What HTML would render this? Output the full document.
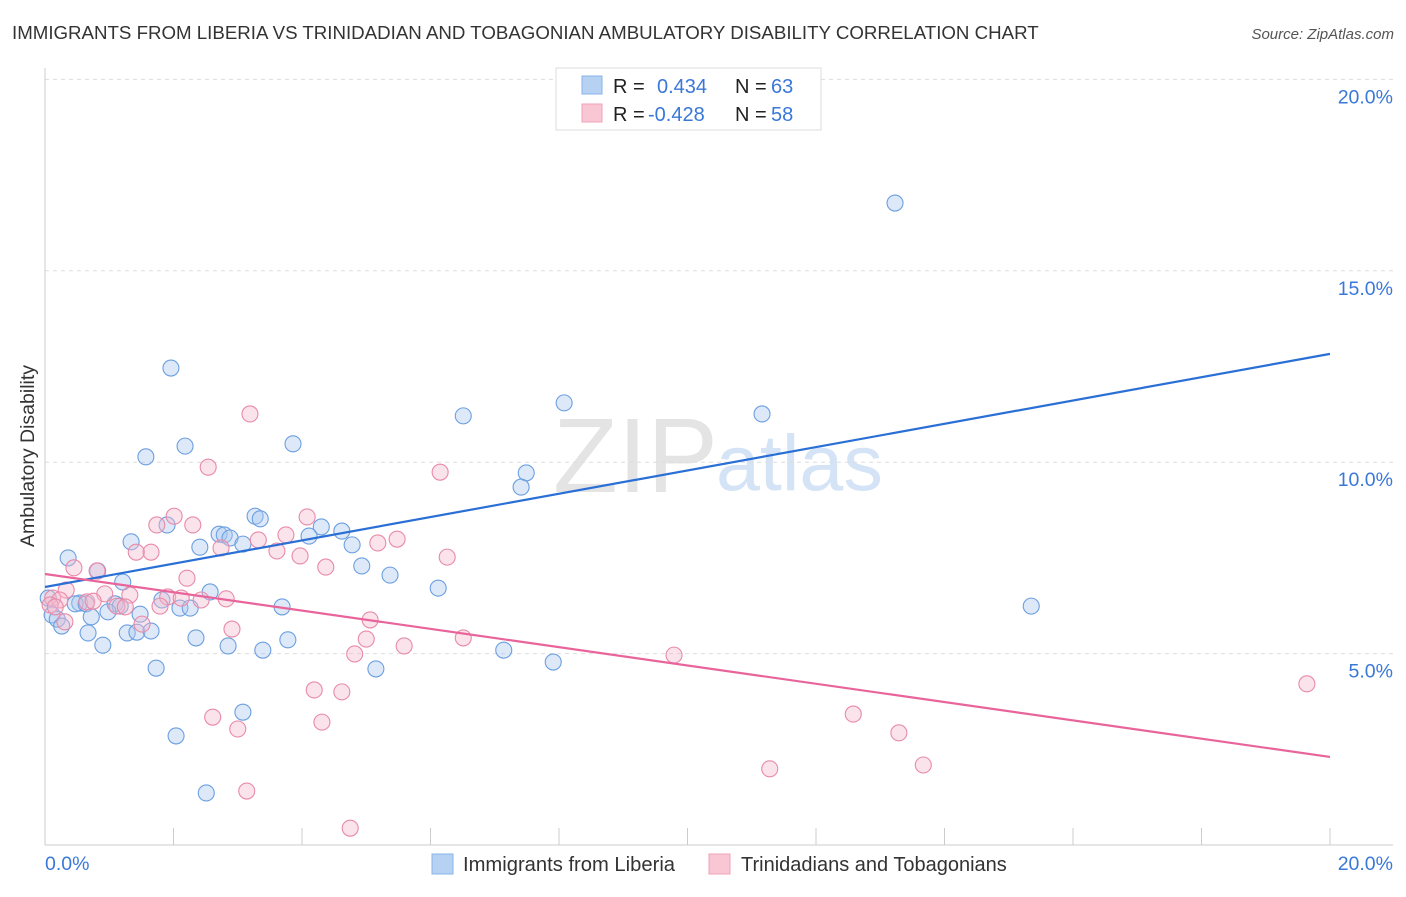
<!DOCTYPE html>
<html><head><meta charset="utf-8"><style>
body{margin:0;background:#fff;font-family:"Liberation Sans",sans-serif}
svg text{font-family:"Liberation Sans",sans-serif}
</style></head><body>
<svg id="chart" width="1406" height="892">
<text x="12" y="39" font-size="18.7" fill="#333">IMMIGRANTS FROM LIBERIA VS TRINIDADIAN AND TOBAGONIAN AMBULATORY DISABILITY CORRELATION CHART</text>
<text x="1394" y="39" font-size="15" fill="#555" font-style="italic" text-anchor="end">Source: ZipAtlas.com</text>
<g>
<text x="553" y="492" font-size="106" fill="#e4e4e4" font-family="Liberation Serif">ZIP</text>
<text x="716" y="490" font-size="79" fill="#d4e3f5">atlas</text>
</g>
<g id="grid"></g><g id="axes"></g>
<text x="34" y="456" font-size="19.5" fill="#333" transform="rotate(-90 34 456)" text-anchor="middle">Ambulatory Disability</text>
<g id="pts"></g><g id="lines"></g>
<g>
<rect x="556" y="68" width="265" height="62" fill="#fff" stroke="#ddd"/>
<rect x="582" y="76" width="20" height="18" fill="#b7d1f3" stroke="#8ab3e8"/>
<rect x="582" y="104" width="20" height="18" fill="#f9c6d4" stroke="#f0a0b8"/>
<text x="613" y="93" font-size="20" fill="#222">R =</text><text x="657" y="93" font-size="20" fill="#3a78d8">0.434</text>
<text x="735" y="93" font-size="20" fill="#222">N =</text><text x="771" y="93" font-size="20" fill="#3a78d8">63</text>
<text x="613" y="121" font-size="20" fill="#222">R =</text><text x="648" y="121" font-size="20" fill="#3a78d8">-0.428</text>
<text x="735" y="121" font-size="20" fill="#222">N =</text><text x="771" y="121" font-size="20" fill="#3a78d8">58</text>
</g>
<g>
<rect x="432" y="854" width="21" height="20" fill="#b7d1f3" stroke="#8ab3e8"/>
<text x="463" y="871" font-size="20.2" fill="#333">Immigrants from Liberia</text>
<rect x="709" y="854" width="21" height="20" fill="#f9c6d4" stroke="#f0a0b8"/>
<text x="741" y="871" font-size="20" fill="#333">Trinidadians and Tobagonians</text>
</g>
</svg>
<script>
const yTicks=[5,10,15,20];
const blueX=[13.23,1.96,6.51,8.08,11.16,3.86,2.18,1.57,7.49,7.41,3.27,3.35,1.90,4.30,4.62,4.11,2.71,2.79,2.88,3.08,1.34,2.41,4.78,0.36,4.93,0.82,5.37,1.21,6.12,2.57,1.82,0.05,0.54,0.47,0.64,1.09,1.17,3.69,15.35,2.10,2.26,1.48,0.98,0.11,0.19,0.72,0.26,1.28,1.43,1.65,0.67,2.35,3.78,2.85,0.90,3.39,7.14,7.91,1.73,5.15,3.08,2.04,2.51];
const blueY=[16.77,12.46,11.21,11.55,11.26,10.48,10.42,10.14,9.72,9.35,8.59,8.52,8.36,8.31,8.20,8.07,8.12,8.10,8.02,7.86,7.92,7.78,7.84,7.50,7.29,7.16,7.05,6.87,6.71,6.61,6.40,6.45,6.32,6.30,6.30,6.30,6.24,6.22,6.24,6.19,6.19,6.03,6.09,6.01,5.90,5.96,5.72,5.54,5.56,5.59,5.54,5.41,5.36,5.20,5.22,5.09,5.09,4.78,4.62,4.60,3.47,2.85,1.36];
const pinkX=[3.19,2.54,6.15,2.01,1.74,2.30,4.08,3.75,5.48,5.18,3.32,1.65,1.42,3.61,2.74,3.97,6.26,0.45,0.81,2.21,4.37,0.33,0.12,0.23,0.08,0.93,1.32,1.91,2.12,2.43,2.82,0.65,0.75,1.12,1.25,1.79,1.51,5.06,2.91,5.00,6.51,5.59,4.82,9.79,4.19,4.62,19.64,12.58,2.61,4.31,3.00,13.29,13.67,11.28,3.14,4.75,0.16,0.31];
const pinkY=[11.26,9.87,9.74,8.59,8.36,8.36,8.57,8.10,7.99,7.89,7.97,7.65,7.65,7.68,7.76,7.55,7.52,7.24,7.16,6.97,7.26,6.66,6.45,6.40,6.27,6.56,6.53,6.48,6.45,6.40,6.43,6.35,6.37,6.24,6.22,6.24,5.77,5.88,5.64,5.38,5.41,5.20,4.99,4.96,4.05,4.00,4.21,3.42,3.34,3.21,3.03,2.93,2.09,1.99,1.41,0.44,6.22,5.83];
const blueTrend=[6.74,12.83];
const pinkTrend=[7.08,2.30];
const xDomain=[0,20];

const NS="http://www.w3.org/2000/svg";
const sx=v=>45+(v-xDomain[0])/(xDomain[1]-xDomain[0])*1285;
const sy=v=>845-v*38.28;
function mk(tag,attrs,parent){const e=document.createElementNS(NS,tag);for(const k in attrs)e.setAttribute(k,attrs[k]);parent.appendChild(e);return e;}
const grid=document.getElementById('grid'),axes=document.getElementById('axes');
yTicks.forEach(t=>{
  const l=mk('line',{x1:45,x2:1393,y1:sy(t),y2:sy(t),stroke:'#ddd','stroke-dasharray':'4,4'},grid);
  
  
  const tx=mk('text',{x:1393,y:sy(t)+24,'font-size':19.5,fill:'#3a78d8','text-anchor':'end'},axes);
  tx.textContent=t.toFixed(1)+'%';
  
  
});
let a=mk('line',{x1:45,x2:45,y1:68,y2:845,stroke:'#ccc'},axes);


a=mk('line',{x1:45,x2:1393,y1:845,y2:845,stroke:'#ccc'},axes);


for(let i=0;i<=10;i++){
  const t=mk('line',{x1:sx(i*2),x2:sx(i*2),y1:828,y2:845,stroke:'#ccc'},axes);
  
  
}
let xl=mk('text',{x:45,y:870,'font-size':19.5,fill:'#3a78d8'},axes);xl.textContent='0.0%';


xl=mk('text',{x:1393,y:870,'font-size':19.5,fill:'#3a78d8','text-anchor':'end'},axes);xl.textContent='20.0%';


const pts=document.getElementById('pts');
function series(X,Y,fill,stroke,name){X.forEach((x,i)=>{
  const c=mk('circle',{cx:sx(x),cy:sy(Y[i]),r:8,fill:fill,'fill-opacity':0.4,stroke:stroke,'stroke-width':1.1},pts);
  
  
});}
series(blueX,blueY,'#a9c7ef','#6b9fe0','point-liberia');
series(pinkX,pinkY,'#f6b9cc','#e88aa8','point-trinidad');
const lines=document.getElementById('lines');
let tl=mk('line',{x1:sx(0),x2:sx(20),y1:sy(blueTrend[0]),y2:sy(blueTrend[1]),stroke:'#2a6fd6','stroke-width':2.2},lines);


tl=mk('line',{x1:sx(0),x2:sx(20),y1:sy(pinkTrend[0]),y2:sy(pinkTrend[1]),stroke:'#e8649a','stroke-width':2.2},lines);


</script>
</body></html>
